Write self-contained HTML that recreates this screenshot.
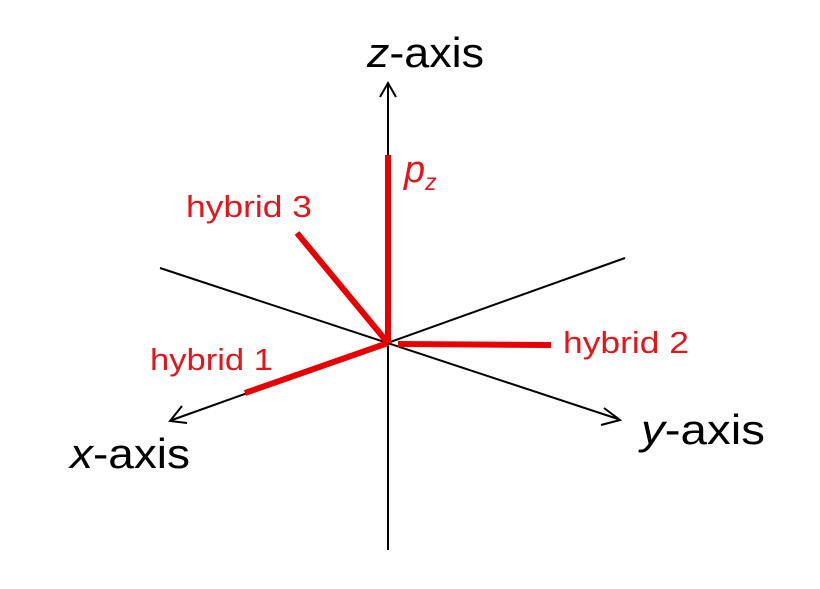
<!DOCTYPE html>
<html><head><style>
html,body{margin:0;padding:0;background:#fff;}
svg{display:block;}
text{font-family:"Liberation Sans",sans-serif;}
</style></head><body>
<svg width="820" height="589" viewBox="0 0 820 589" xmlns="http://www.w3.org/2000/svg">
<g stroke="#000" stroke-width="2" fill="none">
<line x1="388" y1="84" x2="388" y2="550"/>
<polyline points="380,97 388,83 396,97"/>
<line x1="160" y1="268" x2="618" y2="419"/>
<polyline points="604,408 620,420 601,425"/>
<line x1="625" y1="258" x2="172" y2="420"/>
<polyline points="182,406 170,421 187,423"/>
</g>
<g stroke="#e80000" stroke-width="6" fill="none" stroke-linecap="butt">
<line x1="388" y1="155" x2="388" y2="343"/>
<line x1="297" y1="233" x2="388" y2="343"/>
<line x1="398" y1="344" x2="551" y2="345"/>
<line x1="245" y1="393" x2="388" y2="343"/>
</g>
<g font-size="42" fill="#000">
<text x="367" y="67" textLength="117" lengthAdjust="spacingAndGlyphs"><tspan font-style="italic">z</tspan>-axis</text>
<text x="641" y="444" textLength="124" lengthAdjust="spacingAndGlyphs"><tspan font-style="italic">y</tspan>-axis</text>
<text x="70" y="468" textLength="120" lengthAdjust="spacingAndGlyphs"><tspan font-style="italic">x</tspan>-axis</text>
</g>
<g font-size="31" fill="#e3161b">
<text x="186" y="217" textLength="126" lengthAdjust="spacingAndGlyphs">hybrid 3</text>
<text x="150" y="370" textLength="123" lengthAdjust="spacingAndGlyphs">hybrid 1</text>
<text x="563" y="353" textLength="126" lengthAdjust="spacingAndGlyphs">hybrid 2</text>
<text x="404" y="182" font-size="38" font-style="italic">p<tspan font-size="23" dy="8">z</tspan></text>
</g>
</svg>
</body></html>
